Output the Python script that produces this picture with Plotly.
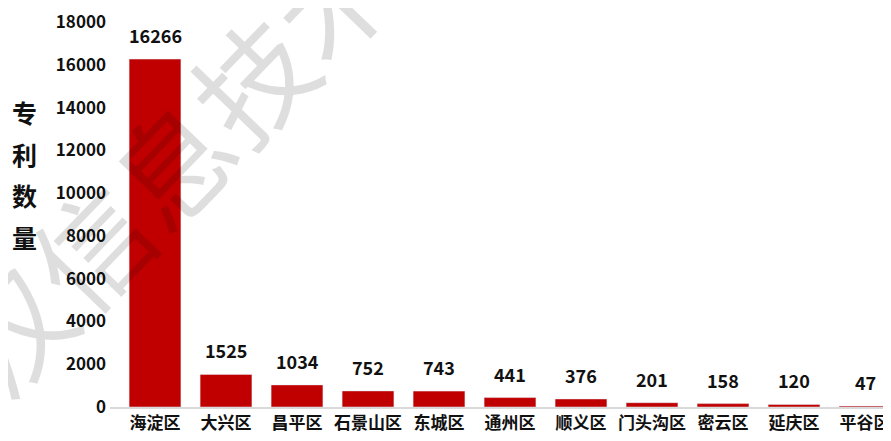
import plotly.graph_objects as go

districts = ["海淀区", "大兴区", "昌平区", "石景山区", "东城区", "通州区",
             "顺义区", "门头沟区", "密云区", "延庆区", "平谷区"]
patents = [16266, 1525, 1034, 752, 743, 441, 376, 201, 158, 120, 47]
y_ticks = list(range(0, 18001, 2000))
y_title = ["专", "利", "数", "量"]

font_family = "Noto Sans CJK SC, Noto Sans, sans-serif"

fig = go.Figure(go.Bar(
    x=districts,
    y=patents,
    marker=dict(color="#C00000"),
    cliponaxis=False,
))

# value labels above bars
for d, v in zip(districts, patents):
    fig.add_annotation(
        x=d, y=v, text=str(v), showarrow=False,
        yanchor="bottom", yshift=9,
        font=dict(size=18, color="#111111", family=font_family, weight="bold"),
    )

# y-axis title, stacked characters
for i, ch in enumerate(y_title):
    fig.add_annotation(
        text=ch, xref="paper", yref="paper",
        x=-0.109, y=0.766 - i * 0.108,
        xanchor="center", yanchor="middle",
        showarrow=False,
        font=dict(size=25, color="#111111", family=font_family, weight="bold"),
    )

# faint diagonal watermark
fig.add_annotation(
    text="汉信息技术",
    xref="paper", yref="paper", x=0.075, y=0.64,
    xanchor="center", yanchor="middle",
    showarrow=False, textangle=-46,
    font=dict(size=116, color="rgba(0,0,0,0.13)", family=font_family),
)

# page body adds an 8px offset, so the figure is sized to fit the window
fig.update_layout(
    width=883,
    height=433,
    margin=dict(l=102, r=0, t=10, b=34),
    plot_bgcolor="white",
    paper_bgcolor="white",
    bargap=0.27,
    showlegend=False,
    font=dict(family=font_family, color="#111111"),
    xaxis=dict(
        range=[-0.634, 10.366],
        showline=True, linecolor="#d9d9d9", linewidth=1.5,
        tickfont=dict(size=17, family=font_family, weight="bold"),
        ticks="", showgrid=False,
    ),
    yaxis=dict(
        range=[0, 18000], tickvals=y_ticks, tickformat="d",
        showgrid=False, zeroline=False, showline=False,
        tickfont=dict(size=17, family=font_family, weight="bold"),
        ticklabelstandoff=3,
        ticklabeloverflow="allow",
    ),
)

fig.write_html("out.html")
